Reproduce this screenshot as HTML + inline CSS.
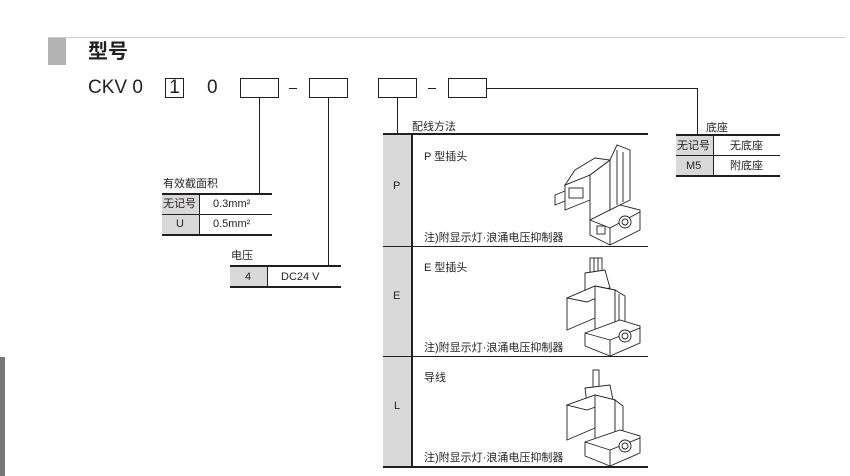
<!DOCTYPE html>
<html><head><meta charset="utf-8"><style>
body{margin:0;width:850px;height:476px;background:#fff;position:relative;overflow:hidden;font-family:"Liberation Sans","Noto Sans CJK SC",sans-serif;color:#231f20}
.a{position:absolute}
.t{position:absolute;font-size:11px;line-height:12px;white-space:nowrap}
.h{position:absolute;background:#231f20;height:2px}
.v{position:absolute;background:#231f20;width:1px}
.g{position:absolute;background:#d9d9d9}
.box{position:absolute;border:1px solid #231f20;box-sizing:border-box;height:20px;top:78px}
</style></head><body>
<div class="a" style="left:48px;top:37px;width:797px;height:1px;background:#ccc"></div>
<div class="a" style="left:48px;top:38px;width:18px;height:27px;background:#b3b3b3"></div>
<div class="t" style="left:88px;top:40px;font-size:20px;line-height:24px;font-weight:bold">型号</div>
<div class="t" style="left:88px;top:77px;font-size:19px;line-height:22px">CKV 0</div>
<div class="box" style="left:165px;width:19px;font-size:19px;line-height:18px;text-align:center">1</div>
<div class="t" style="left:207px;top:77px;font-size:19px;line-height:22px">0</div>
<div class="box" style="left:240px;width:39px"></div>
<div class="a" style="left:289px;top:88px;width:8px;height:1px;background:#231f20"></div>
<div class="box" style="left:309px;width:39px"></div>
<div class="box" style="left:378px;width:39px"></div>
<div class="a" style="left:428px;top:88px;width:8px;height:1px;background:#231f20"></div>
<div class="box" style="left:448px;width:39px"></div>
<div class="a" style="left:487px;top:88px;width:211px;height:1px;background:#231f20"></div>

<div class="v" style="left:259px;top:98px;height:96px"></div>
<div class="t" style="left:163px;top:178px">有效截面积</div>
<div class="g" style="left:162px;top:195px;width:37px;height:40px"></div>
<div class="h" style="left:162px;top:193px;width:110px"></div>
<div class="a" style="left:162px;top:214px;width:110px;height:1px;background:#231f20"></div>
<div class="h" style="left:162px;top:234px;width:110px"></div>
<div class="v" style="left:199px;top:195px;height:40px"></div>
<div class="t" style="left:163px;top:198px">无记号</div>
<div class="t" style="left:213px;top:198px">0.3mm²</div>
<div class="t" style="left:176px;top:218px">U</div>
<div class="t" style="left:213px;top:218px">0.5mm²</div>

<div class="v" style="left:328px;top:98px;height:168px"></div>
<div class="t" style="left:231px;top:250px">电压</div>
<div class="g" style="left:230px;top:267px;width:37px;height:20px"></div>
<div class="h" style="left:230px;top:265px;width:111px"></div>
<div class="h" style="left:230px;top:286px;width:111px"></div>
<div class="v" style="left:267px;top:267px;height:20px"></div>
<div class="t" style="left:245px;top:271px">4</div>
<div class="t" style="left:281px;top:271px">DC24 V</div>

<div class="v" style="left:397px;top:98px;height:36px"></div>
<div class="t" style="left:412px;top:121px">配线方法</div>
<div class="g" style="left:383px;top:135px;width:28px;height:333px"></div>
<div class="h" style="left:383px;top:133px;width:265px"></div>
<div class="a" style="left:383px;top:246px;width:265px;height:1px;background:#231f20"></div>
<div class="a" style="left:383px;top:356px;width:265px;height:1px;background:#231f20"></div>
<div class="h" style="left:383px;top:466px;width:265px"></div>
<div class="a" style="left:411px;top:135px;width:2px;height:333px;background:#231f20"></div>
<div class="t" style="left:393px;top:180px">P</div>
<div class="t" style="left:393px;top:290px">E</div>
<div class="t" style="left:394px;top:400px">L</div>
<div class="t" style="left:424px;top:151px">P 型插头</div>
<div class="t" style="left:424px;top:262px">E 型插头</div>
<div class="t" style="left:424px;top:372px">导线</div>
<div class="t" style="left:424px;top:232px">注)附显示灯·浪涌电压抑制器</div>
<div class="t" style="left:424px;top:342px">注)附显示灯·浪涌电压抑制器</div>
<div class="t" style="left:424px;top:452px">注)附显示灯·浪涌电压抑制器</div>

<svg class="a" style="left:0;top:0" width="850" height="476" fill="#fff" stroke="#231f20" stroke-width="0.9">
<g transform="translate(545,150)">
<polygon points="10,45 30,37 30,47 10,55"/><polygon points="20,35 45,25 45,50 20,60"/>
<rect x="24" y="38" width="14" height="10"/>
<polygon points="45,25 65,10 65,60 45,70"/><polygon points="30,20 50,8 65,10 45,25 20,35"/>
<polygon points="65,10 72,-5 85,0 85,50 65,60"/>
<line x1="72" y1="0" x2="72" y2="55"/><line x1="78" y1="2" x2="78" y2="52"/>
<polygon points="45,70 75,55 95,60 95,80 65,95 45,85"/>
<line x1="45" y1="70" x2="65" y2="78"/><line x1="65" y1="78" x2="95" y2="62"/><line x1="65" y1="78" x2="65" y2="95"/>
<circle cx="80" cy="72" r="6"/><circle cx="80" cy="72" r="3"/><rect x="52" y="76" width="8" height="8"/>
</g>
<g transform="translate(555,258)">
<rect x="35" y="0" width="12" height="18"/><line x1="39" y1="0" x2="39" y2="16"/><line x1="43" y1="0" x2="43" y2="16"/>
<polygon points="30,15 50,12 55,30 30,35"/>
<polygon points="12,40 40,28 40,60 12,72"/><polygon points="12,40 40,28 60,32 32,44"/>
<polygon points="40,28 60,32 60,70 40,80"/><polygon points="60,32 70,38 70,72 60,70"/>
<line x1="64" y1="36" x2="64" y2="70"/>
<polygon points="30,75 65,62 85,68 85,85 55,98 30,88"/>
<line x1="30" y1="75" x2="55" y2="82"/><line x1="55" y1="82" x2="85" y2="70"/><line x1="55" y1="82" x2="55" y2="98"/>
<circle cx="70" cy="78" r="6"/><circle cx="70" cy="78" r="3"/>
</g>
<g transform="translate(555,370)">
<rect x="38" y="0" width="6" height="20"/><polygon points="30,18 55,15 58,30 32,34"/>
<polygon points="12,35 40,25 40,58 12,70"/><polygon points="12,35 40,25 60,30 32,40"/>
<polygon points="40,25 60,30 60,68 40,78"/><polygon points="60,30 68,36 68,70 60,68"/>
<polygon points="30,72 65,60 85,66 85,83 55,96 30,86"/>
<line x1="30" y1="72" x2="55" y2="80"/><line x1="55" y1="80" x2="85" y2="68"/><line x1="55" y1="80" x2="55" y2="96"/>
<circle cx="70" cy="76" r="6"/><circle cx="70" cy="76" r="3"/>
</g>
</svg>

<div class="v" style="left:697px;top:88px;height:47px"></div>
<div class="t" style="left:706px;top:122px">底座</div>
<div class="g" style="left:676px;top:136px;width:37px;height:40px"></div>
<div class="h" style="left:676px;top:134px;width:104px"></div>
<div class="a" style="left:676px;top:155px;width:104px;height:1px;background:#231f20"></div>
<div class="h" style="left:676px;top:175px;width:104px"></div>
<div class="v" style="left:713px;top:136px;height:40px"></div>
<div class="t" style="left:677px;top:140px">无记号</div>
<div class="t" style="left:730px;top:140px">无底座</div>
<div class="t" style="left:686px;top:160px">M5</div>
<div class="t" style="left:730px;top:160px">附底座</div>

<div class="a" style="left:0;top:357px;width:5px;height:119px;background:#777"></div>
</body></html>
